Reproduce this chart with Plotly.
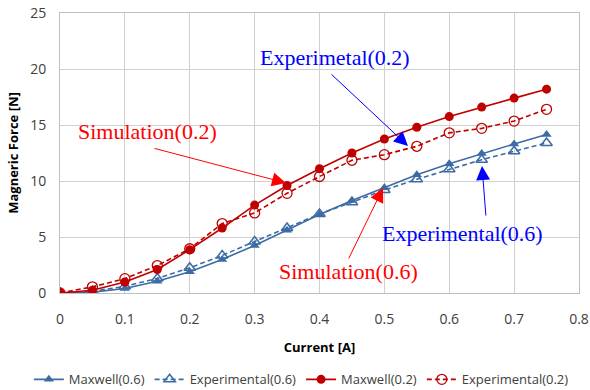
import plotly.graph_objects as go

current = [0, 0.05, 0.1, 0.15, 0.2, 0.25, 0.3, 0.35, 0.4, 0.45, 0.5, 0.55, 0.6, 0.65, 0.7, 0.75]
maxwell_06 = [0, 0.08, 0.4, 1.05, 1.9, 3.0, 4.25, 5.6, 7.0, 8.25, 9.4, 10.55, 11.55, 12.45, 13.3, 14.15]
exp_06 = [0, 0.15, 0.6, 1.3, 2.25, 3.35, 4.6, 5.8, 7.05, 8.1, 9.2, 10.15, 11.05, 11.9, 12.65, 13.4]
maxwell_02 = [0, 0.25, 0.98, 2.1, 3.87, 5.8, 7.85, 9.6, 11.1, 12.5, 13.75, 14.8, 15.75, 16.6, 17.4, 18.2]
exp_02 = [0, 0.55, 1.28, 2.45, 3.95, 6.2, 7.15, 8.9, 10.4, 11.85, 12.35, 13.1, 14.3, 14.7, 15.35, 16.4]

x_ticks = [0, 0.1, 0.2, 0.3, 0.4, 0.5, 0.6, 0.7, 0.8]
y_ticks = [0, 5, 10, 15, 20, 25]

BLUE = "#3d6ca4"
RED = "#c00000"
DASH = "5px,3px"

fig = go.Figure()
fig.add_trace(go.Scatter(x=current, y=maxwell_06, name="Maxwell(0.6)", mode="lines+markers",
                         line=dict(color=BLUE, width=1.6),
                         marker=dict(symbol="triangle-up", size=9, color=BLUE)))
fig.add_trace(go.Scatter(x=current, y=exp_06, name="Experimental(0.6)", mode="lines+markers",
                         line=dict(color=BLUE, width=1.6, dash=DASH),
                         marker=dict(symbol="triangle-up-open", size=10, color=BLUE, line=dict(width=1.5))))
fig.add_trace(go.Scatter(x=current, y=maxwell_02, name="Maxwell(0.2)", mode="lines+markers",
                         line=dict(color=RED, width=1.6),
                         marker=dict(symbol="circle", size=9, color=RED)))
fig.add_trace(go.Scatter(x=current, y=exp_02, name="Experimental(0.2)", mode="lines+markers",
                         line=dict(color=RED, width=1.6, dash=DASH),
                         marker=dict(symbol="circle-open", size=10, color=RED, line=dict(width=1.3))))

ann_font = dict(family="Liberation Serif", size=22)
annotations = [
    dict(text="Experimetal(0.2)", color="#0000ff", tx=335, ty=57, hx=408, hy=146, ax=330, ay=73),
    dict(text="Simulation(0.2)", color="#ff0000", tx=147, ty=131, hx=286, hy=183, ax=153, ay=148),
    dict(text="Experimental(0.6)", color="#0000ff", tx=462, ty=233, hx=482, hy=166, ax=486, ay=217),
    dict(text="Simulation(0.6)", color="#ff0000", tx=348, ty=271, hx=383, hy=188, ax=348, ay=260),
]

# pixel -> data conversions for annotation placement
L, R, T, B = 60, 579, 13, 293
def px2x(p):
    return (p - L) / (R - L) * 0.8
def py2y(p):
    return (B - p) / (B - T) * 25

for a in annotations:
    fig.add_annotation(x=px2x(a["tx"]), y=py2y(a["ty"]), xref="x", yref="y", text=a["text"],
                       showarrow=False, font=dict(ann_font, color=a["color"]))
    fig.add_annotation(x=px2x(a["hx"]), y=py2y(a["hy"]), xref="x", yref="y",
                       ax=px2x(a["ax"]), ay=py2y(a["ay"]), axref="x", ayref="y", text="",
                       showarrow=True, arrowhead=2, arrowsize=2.8, arrowwidth=1, arrowcolor=a["color"],
                       standoff=0)

fig.update_layout(
    width=590, height=390,
    margin=dict(l=60, r=11, t=13, b=97, autoexpand=False),
    paper_bgcolor="white", plot_bgcolor="white",
    font=dict(family="Open Sans", size=13, color="#404040"),
    showlegend=True,
    legend=dict(orientation="h", x=-0.06, xanchor="left", y=-0.255, yanchor="top",
                font=dict(size=13, color="#404040"), itemwidth=30, tracegroupgap=0,
                bgcolor="rgba(0,0,0,0)"),
    xaxis=dict(range=[0, 0.8], tickvals=x_ticks, ticktext=[f"{v:g}" for v in x_ticks],
               showgrid=True, gridcolor="#d0d0d0", gridwidth=1, zeroline=False,
               showline=True, linecolor="#bfbfbf", mirror=True, ticks="", ticklen=0,
               ticklabelstandoff=13,
               title=dict(text="<b>Current [A]</b>", font=dict(size=13, color="#000000"), standoff=16),
               tickfont=dict(size=14, color="#404040")),
    yaxis=dict(range=[0, 25], tickvals=y_ticks, showgrid=True, gridcolor="#d0d0d0", gridwidth=1,
               zeroline=False, showline=True, linecolor="#bfbfbf", mirror=True, ticks="",
               ticklabelstandoff=10,
               title=dict(text="<b>Magneric Force [N]</b>", font=dict(size=13, color="#000000"), standoff=8),
               tickfont=dict(size=14, color="#404040")),
)

fig.write_html("out.html")
